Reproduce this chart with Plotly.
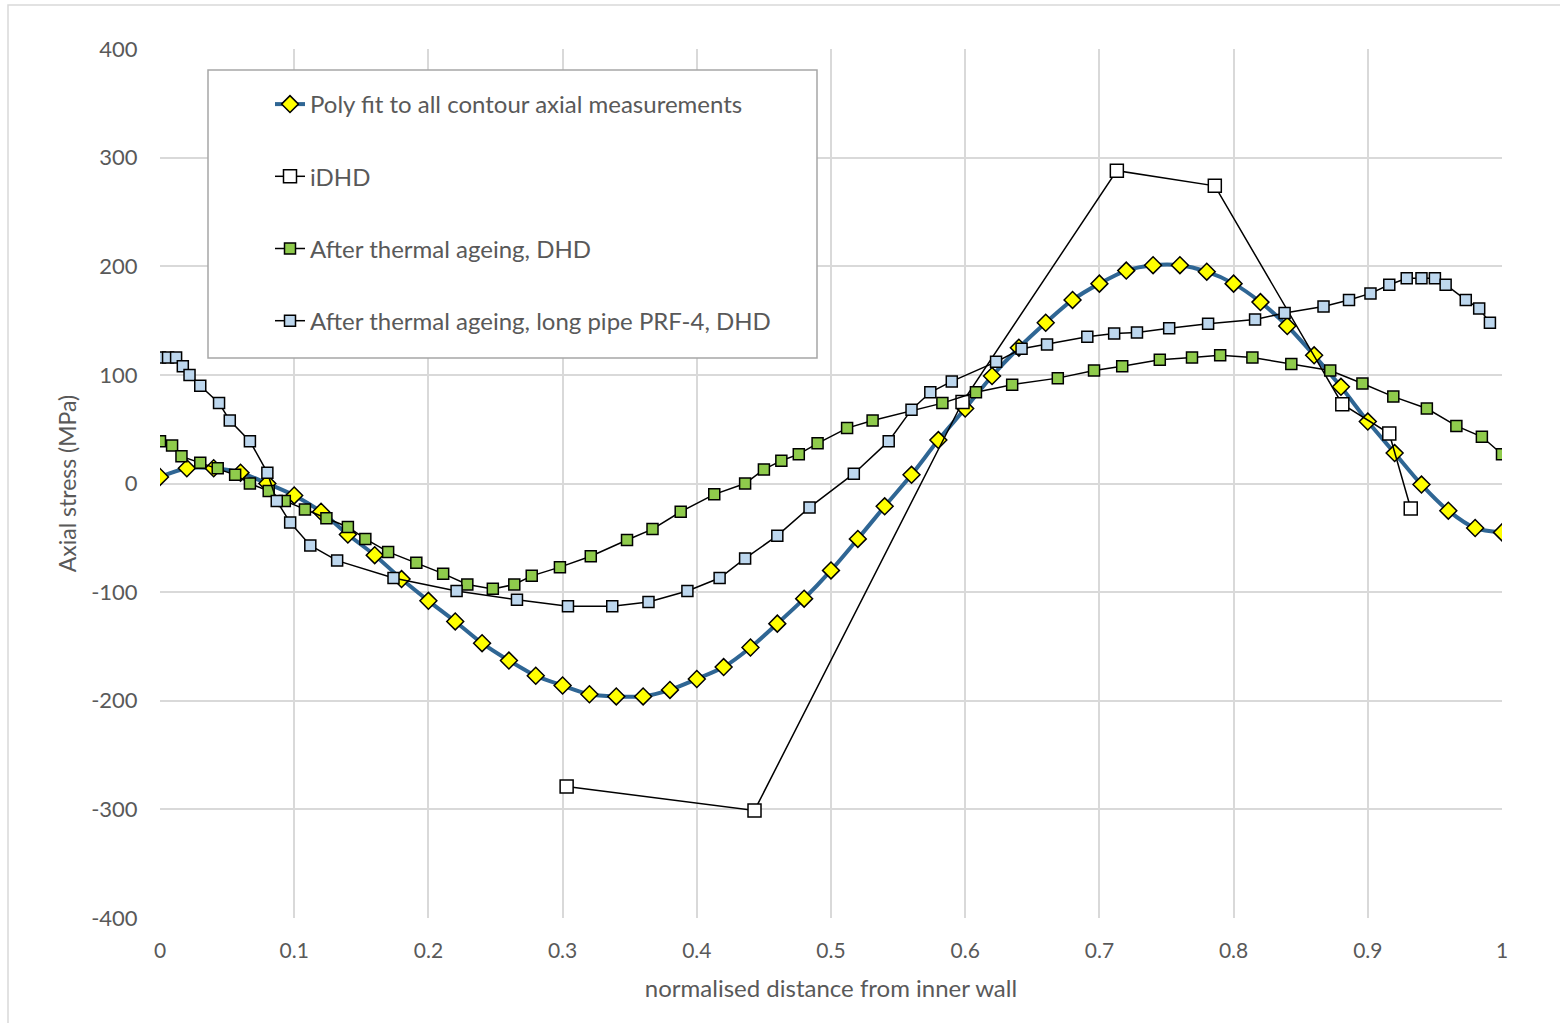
import plotly.graph_objects as go

# ---------------- data ----------------
poly_x = [0.00, 0.02, 0.04, 0.06, 0.08, 0.10, 0.12, 0.14, 0.16, 0.18,
          0.20, 0.22, 0.24, 0.26, 0.28, 0.30, 0.32, 0.34, 0.36, 0.38,
          0.40, 0.42, 0.44, 0.46, 0.48, 0.50, 0.52, 0.54, 0.56, 0.58,
          0.60, 0.62, 0.64, 0.66, 0.68, 0.70, 0.72, 0.74, 0.76, 0.78,
          0.80, 0.82, 0.84, 0.86, 0.88, 0.90, 0.92, 0.94, 0.96, 0.98, 1.00]
poly_y = [6, 14, 14, 10, 0, -11, -26, -47, -66, -88,
          -108, -127, -147, -163, -177, -186, -194, -196, -196, -190,
          -180, -169, -151, -129, -106, -80, -51, -21, 8, 40,
          69, 99, 125, 148, 169, 184, 196, 201, 201, 195,
          184, 167, 145, 118, 89, 57, 28, -1, -25, -41, -45]

idhd_x = [0.303, 0.443, 0.598, 0.713, 0.786, 0.881, 0.916, 0.932]
idhd_y = [-279, -301, 75, 288, 274, 73, 46, -23]

dhd_x = [0.000, 0.009, 0.016, 0.030, 0.043, 0.056, 0.067, 0.081, 0.093, 0.108,
         0.124, 0.140, 0.153, 0.170, 0.191, 0.211, 0.229, 0.248, 0.264, 0.277,
         0.298, 0.321, 0.348, 0.367, 0.388, 0.413, 0.436, 0.450, 0.463, 0.476,
         0.490, 0.512, 0.531, 0.583, 0.608, 0.635, 0.669, 0.696, 0.717, 0.745,
         0.769, 0.790, 0.814, 0.843, 0.872, 0.896, 0.919, 0.944, 0.966, 0.985, 1.000]
dhd_y = [39, 35, 25, 19, 14, 8, 0, -7, -16, -24,
         -32, -40, -51, -63, -73, -83, -93, -97, -93, -85,
         -77, -67, -52, -42, -26, -10, 0, 13, 21, 27,
         37, 51, 58, 74, 84, 91, 97, 104, 108, 114,
         116, 118, 116, 110, 104, 92, 80, 69, 53, 43, 27]

prf_x = [0.000, 0.006, 0.012, 0.017, 0.022, 0.030, 0.044, 0.052, 0.067, 0.080,
         0.087, 0.097, 0.112, 0.132, 0.174, 0.221, 0.266, 0.304, 0.337, 0.364,
         0.393, 0.417, 0.436, 0.460, 0.484, 0.517, 0.543, 0.560, 0.574, 0.590,
         0.623, 0.642, 0.661, 0.691, 0.711, 0.728, 0.752, 0.781, 0.816, 0.838,
         0.867, 0.886, 0.902, 0.916, 0.929, 0.940, 0.950, 0.958, 0.973, 0.983, 0.991]
prf_y = [116, 116, 116, 108, 100, 90, 74, 58, 39, 10,
         -16, -36, -57, -71, -87, -99, -107, -113, -113, -109,
         -99, -87, -69, -48, -22, 9, 39, 68, 84, 94,
         112, 124, 128, 135, 138, 139, 143, 147, 151, 157,
         163, 169, 175, 183, 189, 189, 189, 183, 169, 161, 148]

names = ["Poly fit to all contour axial measurements",
         "iDHD",
         "After thermal ageing, DHD",
         "After thermal ageing, long pipe PRF-4, DHD"]

x_ticks = [0, 0.1, 0.2, 0.3, 0.4, 0.5, 0.6, 0.7, 0.8, 0.9, 1]
x_ticktext = ["0", "0.1", "0.2", "0.3", "0.4", "0.5", "0.6", "0.7", "0.8", "0.9", "1"]
y_ticks = [-400, -300, -200, -100, 0, 100, 200, 300, 400]
y_ticktext = ["-400", "-300", "-200", "-100", "0", "100", "200", "300", "400"]

# ---------------- figure ----------------
FONT = "Lato, 'Open Sans', sans-serif"
TXT = "#595959"

fig = go.Figure()
fig.add_trace(go.Scatter(
    x=poly_x, y=poly_y, name=names[0], mode="lines+markers", legendgroup="a",
    line=dict(color="#2F6694", width=4, shape="spline", smoothing=0.8),
    marker=dict(symbol="diamond", size=13, color="#FFFF00",
                line=dict(color="black", width=1.5))))
fig.add_trace(go.Scatter(
    x=idhd_x, y=idhd_y, name=names[1], mode="lines+markers", legendgroup="b",
    line=dict(color="black", width=1.5),
    marker=dict(symbol="square", size=13, color="white",
                line=dict(color="black", width=1.5))))
fig.add_trace(go.Scatter(
    x=dhd_x, y=dhd_y, name=names[2], mode="lines+markers", legendgroup="c",
    line=dict(color="black", width=1.5),
    marker=dict(symbol="square", size=11, color="#8FCB4C",
                line=dict(color="black", width=1.5))))
fig.add_trace(go.Scatter(
    x=prf_x, y=prf_y, name=names[3], mode="lines+markers", legendgroup="d",
    line=dict(color="black", width=1.5),
    marker=dict(symbol="square", size=11, color="#BDD7EE",
                line=dict(color="black", width=1.5))))

W, H = 1560, 1023
L, R, T, B = 160, 58, 49, 105
pw, ph = W - L - R, H - T - B

def px_x(p):
    return (p - L) / pw

def px_y(p):
    return (H - B - p) / ph

shapes = [
    # legend box
    dict(type="rect", xref="paper", yref="paper",
         x0=px_x(208), x1=px_x(817), y0=px_y(358), y1=px_y(70),
         line=dict(color="#A6A6A6", width=1.5), fillcolor="white", layer="above"),
    # chart area border
    dict(type="rect", xref="paper", yref="paper",
         x0=px_x(8), x1=px_x(1575), y0=px_y(1040), y1=px_y(5),
         line=dict(color="#D9D9D9", width=1.5), fillcolor="rgba(0,0,0,0)"),
]

fig.update_layout(
    width=W, height=H,
    margin=dict(l=L, r=R, t=T, b=B),
    paper_bgcolor="white", plot_bgcolor="white",
    font=dict(family=FONT, size=21, color=TXT),
    showlegend=True,
    legend=dict(x=px_x(270), y=px_y(82), xanchor="left", yanchor="top",
                bgcolor="rgba(0,0,0,0)", borderwidth=0,
                font=dict(family=FONT, size=24, color=TXT),
                traceorder="grouped", tracegroupgap=38),
    shapes=shapes,
    xaxis=dict(range=[0, 1], tickvals=x_ticks, ticktext=x_ticktext,
               showgrid=True, gridcolor="#D9D9D9", gridwidth=1.5,
               zeroline=False, showline=False,
               ticks="outside", ticklen=14, tickcolor="rgba(0,0,0,0)",
               tickfont=dict(family=FONT, size=21, color=TXT),
               title=dict(text="normalised distance from inner wall",
                          font=dict(family=FONT, size=24, color=TXT), standoff=18)),
    yaxis=dict(range=[-400, 400], tickvals=y_ticks, ticktext=y_ticktext,
               showgrid=True, gridcolor="#D9D9D9", gridwidth=1.5,
               zeroline=False, showline=False,
               ticks="outside", ticklen=17, tickcolor="rgba(0,0,0,0)",
               tickfont=dict(family=FONT, size=22, color=TXT),
               title=dict(text="Axial stress (MPa)",
                          font=dict(family=FONT, size=23, color=TXT), standoff=8)),
)

fig.write_html("out.html")
